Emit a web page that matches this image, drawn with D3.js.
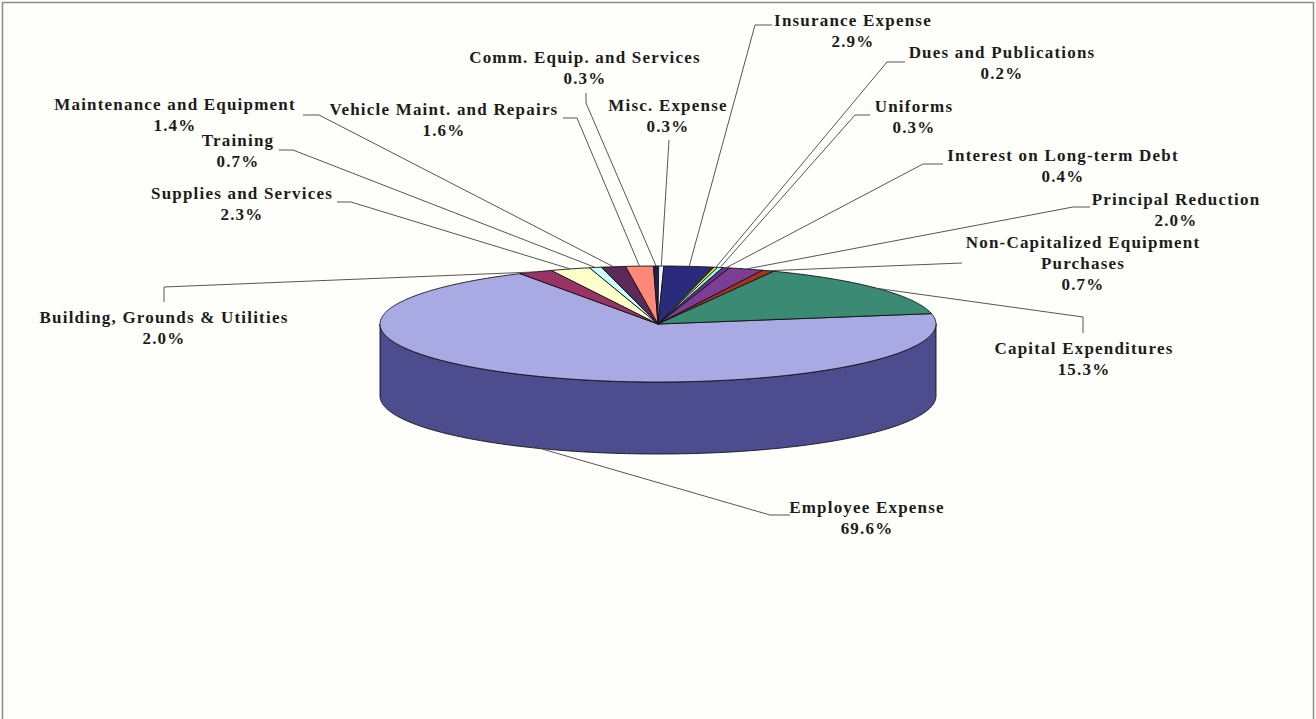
<!DOCTYPE html>
<html>
<head>
<meta charset="utf-8">
<script src="https://cdn.jsdelivr.net/npm/d3@7"></script>
<style>
  body { margin: 0; background: #fefefa; }
  .lbl { font-family: "Liberation Serif", "Times New Roman", serif; font-weight: bold; font-size: 17px; fill: #1c1c1c; letter-spacing: 1.2px; }
</style>
</head>
<body>
<div id="chart"></div>
<script>
// slices, clockwise, first one starts a bit above 3 o'clock
var categories = ["Employee Expense", "Building, Grounds & Utilities", "Supplies and Services", "Training",
  "Maintenance and Equipment", "Vehicle Maint. and Repairs", "Comm. Equip. and Services", "Misc. Expense",
  "Insurance Expense", "Dues and Publications", "Uniforms", "Interest on Long-term Debt",
  "Principal Reduction", "Non-Capitalized Equipment\nPurchases", "Capital Expenditures"];
var values = [69.6, 2.0, 2.3, 0.7, 1.4, 1.6, 0.3, 0.3, 2.9, 0.2, 0.3, 0.4, 2.0, 0.7, 15.3];
var colors = ["#a9a9e3", "#993366", "#ffffcc", "#ccffff", "#5b2a5b", "#ff8878", "#22224a", "#f4f4ff",
  "#2b2b7e", "#ffff00", "#99ffff", "#6a3388", "#7b3d96", "#a8321e", "#3b8b74"];
var sideColors = ["#4c4c8e", "#662244", "#bbbb88", "#88aaaa", "#3a1a3a", "#b05a50", "#111133", "#aaaabb",
  "#1a1a55", "#aaaa00", "#66aaaa", "#442255", "#522865", "#701f14", "#27604f"];

// label layout: text centre / first baseline, leader stub (elbow -> end)
var labelLayout = [
  {x: 867, y: 513, elbow: [770, 515], end: [790, 515]},
  {x: 164, y: 323, elbow: [164, 287], end: [164, 302]},
  {x: 242, y: 199, elbow: [351, 202], end: [337, 202]},
  {x: 238, y: 146, elbow: [293, 150], end: [279, 150]},
  {x: 175, y: 110, elbow: [319, 115], end: [303, 115]},
  {x: 444, y: 115, elbow: [577, 118], end: [563, 118]},
  {x: 585, y: 63, elbow: [586, 103], end: [586, 93]},
  {x: 668, y: 111, elbow: [669, 140], end: [669, 140]},
  {x: 853, y: 26, elbow: [755, 25], end: [772, 25]},
  {x: 1002, y: 58, elbow: [887, 62], end: [905, 62]},
  {x: 914, y: 112, elbow: [855, 115], end: [870, 115]},
  {x: 1063, y: 161, elbow: [923, 164], end: [943, 164]},
  {x: 1176, y: 205, elbow: [1073, 207], end: [1090, 207]},
  {x: 1083, y: 248, elbow: [962, 263], end: [962, 263]},
  {x: 1084, y: 354, elbow: [1083, 317], end: [1083, 333]}
];

var width = 1316, height = 719;
var cx = 658, cy = 324, rx = 278, ry = 58, depth = 72;
var startDeg = 79.7;

var svg = d3.select("#chart").append("svg")
  .attr("width", width)
  .attr("height", height);

svg.append("rect")
  .attr("x", 2.5).attr("y", 2.5)
  .attr("width", width - 5).attr("height", height + 10)
  .attr("fill", "#fefefa")
  .attr("stroke", "#8a8a8a")
  .attr("stroke-width", 1.5);

var pie = d3.pie().sort(null).value(function(d) { return d; })
  .startAngle(startDeg * Math.PI / 180)
  .endAngle(startDeg * Math.PI / 180 + 2 * Math.PI);
var arcs = pie(values);

// projection of the tilted circle (angle clockwise from 12 o'clock)
var px = d3.scaleLinear().domain([-1, 1]).range([cx - rx, cx + rx]);
var py = d3.scaleLinear().domain([-1, 1]).range([cy - ry, cy + ry]);
function pt(a, dz) {
  return [px(Math.sin(a)), py(-Math.cos(a)) + (dz || 0)];
}
function arcPts(a0, a1, dz) {
  var n = Math.max(2, Math.ceil((a1 - a0) / 0.01));
  return d3.range(n + 1).map(function(i) { return pt(a0 + (a1 - a0) * i / n, dz); });
}
var line = d3.line();

// side wall (front half only)
var sideG = svg.append("g");
arcs.forEach(function(d, i) {
  for (var k = 0; k < 2; k++) {
    var lo = Math.PI / 2 + k * 2 * Math.PI, hi = 3 * Math.PI / 2 + k * 2 * Math.PI;
    var a0 = Math.max(d.startAngle, lo), a1 = Math.min(d.endAngle, hi);
    if (a1 <= a0) continue;
    var pts = arcPts(a0, a1, 0).concat(arcPts(a0, a1, depth).reverse());
    sideG.append("path")
      .attr("d", line(pts) + "Z")
      .attr("fill", sideColors[i])
      .attr("stroke", "#111")
      .attr("stroke-width", 0.9);
  }
});

// top face
var topG = svg.append("g");
topG.selectAll("path")
  .data(arcs)
  .enter().append("path")
  .attr("d", function(d) {
    return line([[cx, cy]].concat(arcPts(d.startAngle, d.endAngle, 0))) + "Z";
  })
  .attr("fill", function(d, i) { return colors[i]; })
  .attr("stroke", "#111")
  .attr("stroke-width", 0.9)
  .attr("stroke-linejoin", "round");

// leader lines
var leaders = svg.append("g");
arcs.forEach(function(d, i) {
  var mid = (d.startAngle + d.endAngle) / 2;
  var front = Math.cos(mid) < 0;
  var p = pt(mid, front ? depth : 0);
  var L = labelLayout[i];
  leaders.append("path")
    .attr("d", line([p, L.elbow, L.end]))
    .attr("fill", "none")
    .attr("stroke", "#555")
    .attr("stroke-width", 1);
});

// labels
var fmt = d3.format(".1f");
var labels = svg.append("g");
categories.forEach(function(name, i) {
  var L = labelLayout[i];
  var lines = name.split("\n").concat([fmt(values[i]) + "%"]);
  var t = labels.append("text")
    .attr("class", "lbl")
    .attr("text-anchor", "middle");
  lines.forEach(function(s, j) {
    t.append("tspan")
      .attr("x", L.x)
      .attr("y", L.y + j * 21)
      .text(s);
  });
});
</script>
</body>
</html>
